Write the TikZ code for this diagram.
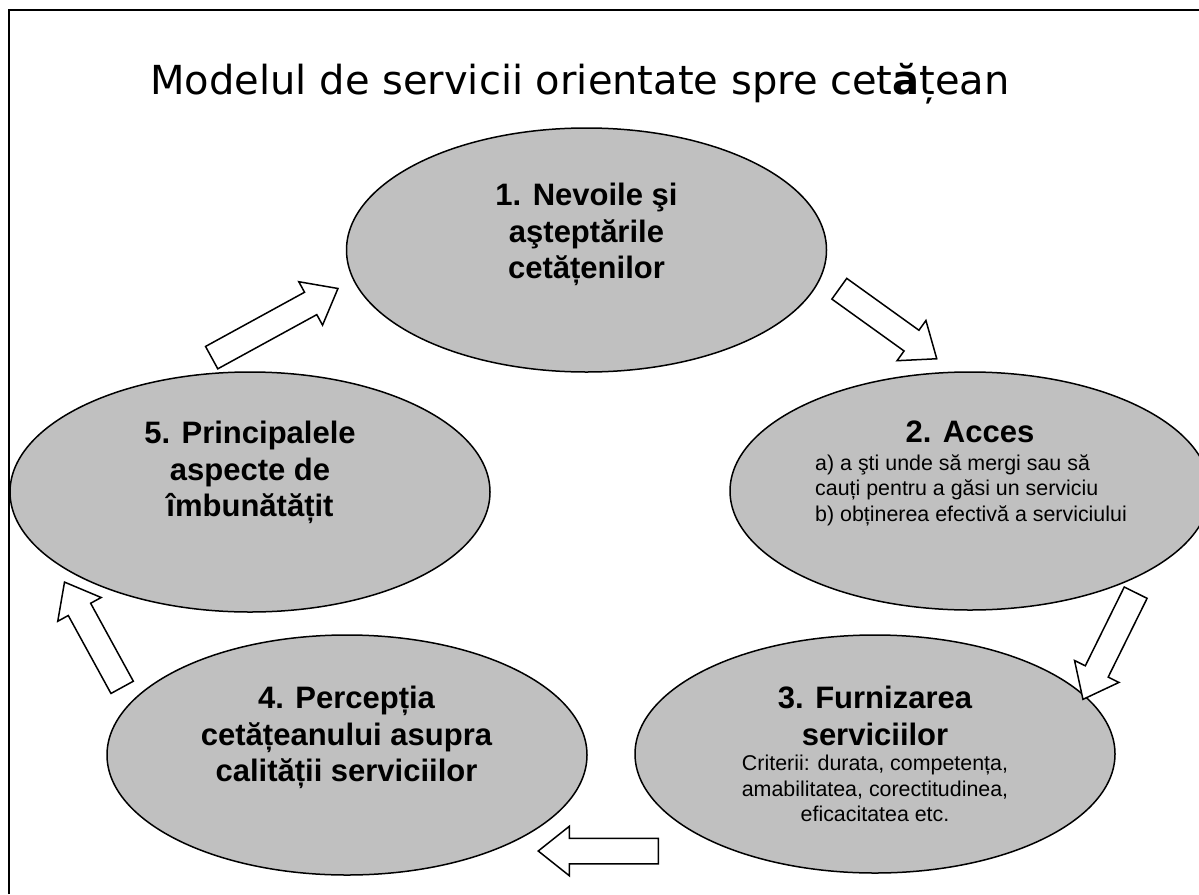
\documentclass[tikz,border=0pt]{standalone}
\usepackage{fontspec}
\setmainfont{Liberation Sans}
\newfontfamily\titlefont{DejaVu Sans}
\usetikzlibrary{shapes.geometric, shapes.arrows, positioning}
\definecolor{ovalgray}{RGB}{192,192,192}

\begin{document}
\begin{tikzpicture}[x=1pt, y=-1pt,
    oval/.style={ellipse, draw, line width=1.5pt, fill=ovalgray, inner sep=0pt,
      minimum width=480pt, minimum height=240pt},
    bigtxt/.style={align=center, font=\fontsize{31}{36.5}\selectfont\bfseries, inner sep=0pt, anchor=north},
    smalltxt/.style={font=\fontsize{21.4}{25.5}\selectfont, inner sep=0pt, anchor=north},
    blockarr/.style={single arrow, draw, line width=1.5pt, fill=white, inner xsep=0pt, inner ysep=12pt,
      single arrow head extend=12pt, single arrow tip angle=77, anchor=tail}]
  \useasboundingbox (0,0) rectangle (1199,894);
  \draw[line width=2pt] (8.5,894) -- (8.5,10) -- (1199,10);
  \node[font=\titlefont\fontsize{40}{48}\selectfont, anchor=base] (title) at (580,94)
    {Modelul de servicii orientate spre cet{\bfseries ă}țean};

  % ovals
  \node[oval, minimum height=244pt] (e1) at (586.5,250) {};
  \node[oval, minimum height=238pt] (e2) at (970,491) {};
  \node[oval, minimum height=238pt] (e3) at (875,754) {};
  \node[oval] (e4) at (347,755) {};
  \node[oval] (e5) at (250,492) {};

  \node[bigtxt] (t1) at (586.5,183) {1. Nevoile şi\\aşteptările\\cetățenilor};
  \node[bigtxt] (t2) at (970,421) {2. Acces};
  \node[smalltxt, align=left, anchor=north west] (s2) at (815,454.5)
    {a) a şti unde să mergi sau să\\cauți pentru a găsi un serviciu\\b) obținerea efectivă a serviciului};
  \node[bigtxt] (t3) at (875,686) {3. Furnizarea\\serviciilor};
  \node[smalltxt, align=center] (s3) at (875,755)
    {Criterii: durata, competența,\\amabilitatea, corectitudinea,\\eficacitatea etc.};
  \node[bigtxt] (t4) at (346.5,686) {4. Percepția\\cetățeanului asupra\\calității serviciilor};
  \node[bigtxt] (t5) at (250,421) {5. Principalele\\aspecte de\\îmbunătățit};

  % block arrows
  \coordinate (a12tail) at (838.7,288.3);
  \coordinate (a23tail) at (1136,592);
  \coordinate (a34tail) at (659,851);
  \coordinate (a45tail) at (122.5,688);
  \coordinate (a51tail) at (211,358);
  \node[blockarr, minimum height=120pt, rotate=-35.7] (a12) at (a12tail) {};
  \node[blockarr, minimum height=119pt, rotate=-116.3] (a23) at (a23tail) {};
  \node[blockarr, minimum height=120pt, rotate=180] (a34) at (a34tail) {};
  \node[blockarr, minimum height=120pt, rotate=118.7] (a45) at (a45tail) {};
  \node[blockarr, minimum height=144pt, rotate=28.7] (a51) at (a51tail) {};
\end{tikzpicture}
\end{document}
